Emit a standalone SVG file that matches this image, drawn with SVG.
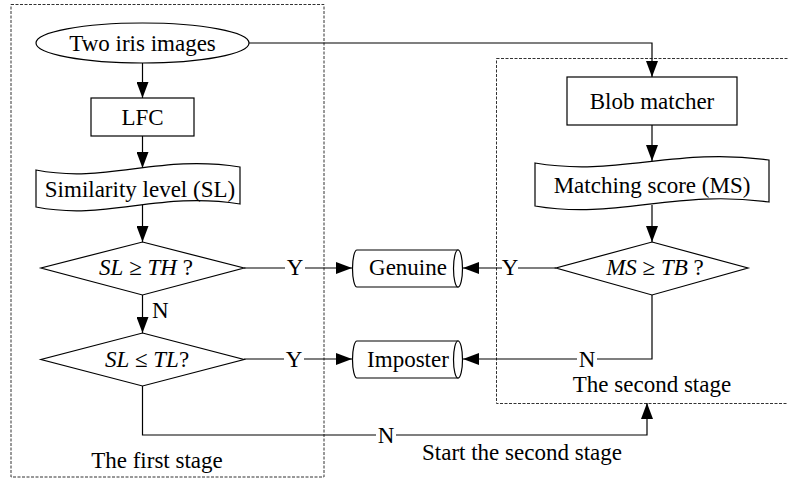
<svg xmlns="http://www.w3.org/2000/svg" width="788" height="479" viewBox="0 0 788 479">
<defs>
<marker id="ah" markerUnits="userSpaceOnUse" markerWidth="16" markerHeight="12" refX="16" refY="6" orient="auto">
<path d="M0,0 L16,6 L0,12 Z" fill="#000"/>
</marker>
<style>
.c{text-anchor:middle}
.shape{fill:#fff;stroke:#000;stroke-width:1.2}
.ln{fill:none;stroke:#000;stroke-width:1.2}
.arr{fill:none;stroke:#000;stroke-width:1.2;marker-end:url(#ah)}
.stage{fill:none;stroke:#333;stroke-width:1;stroke-dasharray:3,1.5}
.i{font-style:italic}
</style>
</defs>
<rect width="788" height="479" fill="#fff"/>
<g font-family="Liberation Serif, Times New Roman, DejaVu Serif, serif" font-size="23" fill="#000">
<g id="stage1"><rect class="stage" x="11" y="4.5" width="313" height="472.5"/><text class="c" x="157" y="468">The first stage</text></g>
<g id="stage2"><rect class="stage" x="496.5" y="58.5" width="400" height="345"/><text class="c" x="652" y="392">The second stage</text></g>
<g id="connectors">
<path class="arr" d="M142.5,63 V98"/>
<path class="arr" d="M142.5,136 V168"/>
<path class="arr" d="M142.5,205 V242"/>
<path class="arr" d="M142.5,295 V333"/>
<text x="152" y="318">N</text>
<path class="ln" d="M244,268 H285"/>
<text class="c" x="295" y="275">Y</text>
<path class="arr" d="M305,268 H352"/>
<path class="ln" d="M244,359 H284"/>
<text class="c" x="294" y="367">Y</text>
<path class="arr" d="M304,359 H352"/>
<path class="ln" d="M142.5,386 V435 H376"/>
<text class="c" x="386" y="443">N</text>
<path class="arr" d="M396,435 H647 V403"/>
<text class="c" x="522" y="460">Start the second stage</text>
<path class="arr" d="M249,43 H652 V77"/>
<path class="arr" d="M652,125 V161"/>
<path class="arr" d="M652,205 V242"/>
<path class="ln" d="M556,268 H518"/>
<text class="c" x="510" y="275">Y</text>
<path class="arr" d="M502,268 H463"/>
<path class="ln" d="M652,295 V359 H597"/>
<text class="c" x="587" y="367">N</text>
<path class="arr" d="M577,359 H463"/>
</g>
<g id="start"><ellipse class="shape" cx="142.5" cy="43" rx="106.5" ry="20"/><text class="c" x="142.5" y="51">Two iris images</text></g>
<g id="lfc"><rect class="shape" x="91" y="98" width="103" height="38"/><text class="c" x="142.5" y="125">LFC</text></g>
<g id="sl"><path class="shape" d="M36,170 C107,184 158,154 240,167 L240,204 C158,191 107,221 36,207 Z"/><text class="c" x="140" y="197">Similarity level (SL)</text></g>
<g id="d1"><path class="shape" d="M142.5,242 L244,268 L142.5,295 L41,268 Z"/><text class="c" x="146" y="275"><tspan class="i">SL</tspan> ≥ <tspan class="i">TH</tspan> ?</text></g>
<g id="d2"><path class="shape" d="M142.5,333 L244,359.5 L142.5,386 L41,359.5 Z"/><text class="c" x="147" y="367"><tspan class="i">SL</tspan> ≤ <tspan class="i">TL</tspan>?</text></g>
<g id="genuine"><path class="shape" d="M357,250 H458 V287 H357 A4.5,18.5 0 0 1 357,250 Z"/><ellipse class="shape" cx="458" cy="268.5" rx="4.5" ry="18.5"/><text class="c" x="408" y="275">Genuine</text></g>
<g id="imposter"><path class="shape" d="M357,341 H458 V378 H357 A4.5,18.5 0 0 1 357,341 Z"/><ellipse class="shape" cx="458" cy="359.5" rx="4.5" ry="18.5"/><text class="c" x="408" y="367">Imposter</text></g>
<g id="blob"><rect class="shape" x="567" y="77" width="170" height="48"/><text class="c" x="652" y="109">Blob matcher</text></g>
<g id="ms"><path class="shape" d="M535,163 C617,177 675,147 769,160 L769,202 C675,189 617,220 535,206 Z"/><text class="c" x="652" y="193">Matching score (MS)</text></g>
<g id="d3"><path class="shape" d="M652,242 L748,268 L652,295 L556,268 Z"/><text class="c" x="655" y="275"><tspan class="i">MS</tspan> ≥ <tspan class="i">TB</tspan> ?</text></g>
</g>
</svg>
